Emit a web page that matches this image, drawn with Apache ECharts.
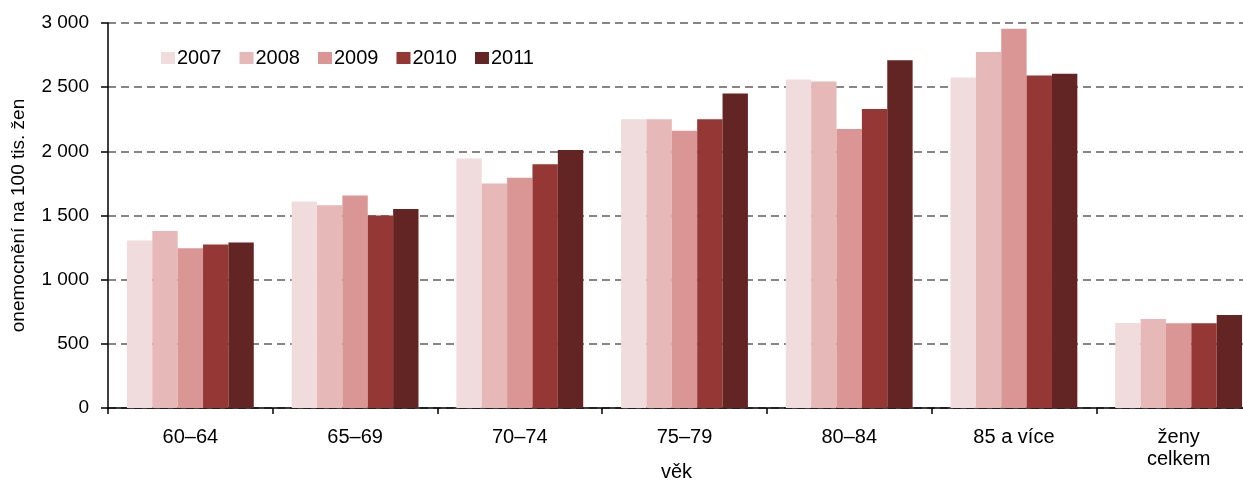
<!DOCTYPE html>
<html>
<head>
<meta charset="utf-8">
<script src="https://cdn.jsdelivr.net/npm/echarts@6/dist/echarts.min.js"></script>
<style>
html, body { margin: 0; padding: 0; background: #fff; }
#chart { width: 1243px; height: 483px; }
</style>
</head>
<body>
<div id="chart"></div>
<script>
// age groups on the x axis
const categories = ['60–64', '65–69', '70–74', '75–79', '80–84', '85 a více', 'ženy\ncelkem']
const years = ['2007', '2008', '2009', '2010', '2011']
const colors = ['#f0dcdc', '#e6b8b7', '#da9694', '#953735', '#632523']

// values (per 100 000 women)
const v2007 = [1305, 1610, 1945, 2250, 2560, 2575, 662]
const v2008 = [1380, 1580, 1750, 2250, 2545, 2775, 694]
const v2009 = [1245, 1655, 1795, 2160, 2175, 2955, 660]
const v2010 = [1275, 1500, 1900, 2250, 2330, 2590, 660]
const v2011 = [1290, 1550, 2010, 2450, 2710, 2605, 725]
const yTicks = [0, 500, 1000, 1500, 2000, 2500, 3000]

const allValues = [v2007, v2008, v2009, v2010, v2011]
const font = 'Liberation Sans, Arial, sans-serif'

const series = years.map(function (y, i) {
  return {
    name: y,
    type: 'bar',
    barGap: '0%',
    barCategoryGap: '23%',
    itemStyle: { color: colors[i] },
    data: allValues[i]
  }
})

const chart = echarts.init(document.getElementById('chart'))
chart.setOption({
  animation: false,
  textStyle: { fontFamily: font },
  legend: {
    data: years,
    left: 156,
    top: 43,
    itemWidth: 14,
    itemHeight: 12,
    itemGap: 18,
    icon: 'rect',
    textStyle: { fontSize: 20, color: '#000', fontFamily: font, padding: [0, 0, 0, -3] }
  },
  grid: {
    left: 108,
    top: 23,
    bottom: 75,
    width: 1153,
    outerBoundsMode: 'none',
    containLabel: false
  },
  xAxis: {
    type: 'category',
    data: categories,
    name: 'věk',
    nameLocation: 'middle',
    nameGap: 54,
    nameMoveOverlap: false,
    nameTextStyle: { fontSize: 20, color: '#000', padding: [0, 16, 0, 0] },
    axisLine: { lineStyle: { color: '#000', width: 1.5 } },
    axisTick: { show: true, length: 6, lineStyle: { color: '#000', width: 1.5 } },
    axisLabel: { fontSize: 20, color: '#000', margin: 18, lineHeight: 22, interval: 0 }
  },
  yAxis: {
    type: 'value',
    min: yTicks[0],
    max: yTicks[yTicks.length - 1],
    interval: yTicks[1] - yTicks[0],
    name: 'onemocnění na 100 tis. žen',
    nameLocation: 'middle',
    nameGap: 80,
    nameMoveOverlap: false,
    nameTextStyle: { fontSize: 19, color: '#000' },
    axisLine: { show: true, lineStyle: { color: '#000', width: 1.5 } },
    axisTick: { show: true, length: 7, lineStyle: { color: '#000', width: 1.5 } },
    axisLabel: {
      fontSize: 19,
      color: '#000',
      margin: 19,
      formatter: function (val) {
        return String(val).replace(/\B(?=(\d{3})+(?!\d))/g, ' ')
      }
    },
    splitLine: { lineStyle: { color: '#858585', width: 2, type: [8, 5] } }
  },
  series: series
})
</script>
</body>
</html>
